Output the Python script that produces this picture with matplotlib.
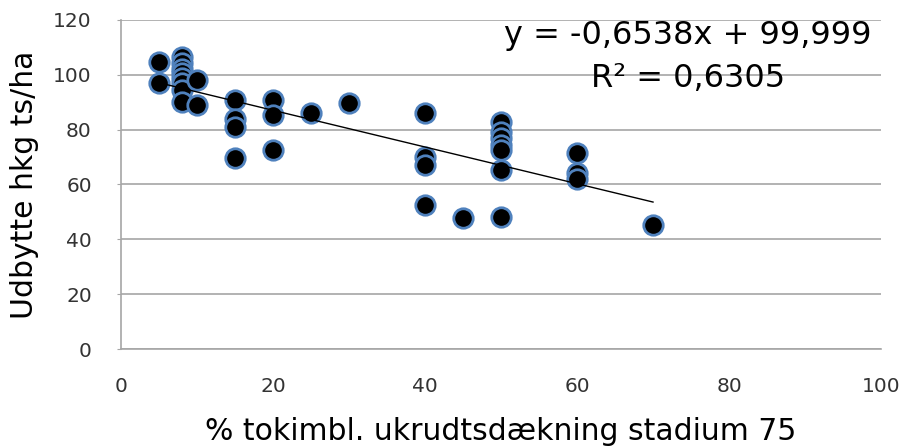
import numpy as np
import matplotlib
matplotlib.use("Agg")
import matplotlib.pyplot as plt

plt.rcParams['font.family'] = ['DejaVu Sans']

# % ukrudtsdaekning og udbytte, aflaest fra figuren
daekning = [5, 5,
            8, 8, 8, 8, 8, 8, 8, 8,
            10, 10,
            15, 15, 15, 15,
            20, 20, 20,
            25, 30,
            40, 40, 40, 40,
            45,
            50, 50, 50, 50, 50, 50, 50,
            60, 60, 60,
            70]
udbytte = [104.8, 96.9,
           106.4, 104.4, 102.3, 100.5, 98.7, 96.9, 94.5, 90.2,
           98.1, 89.0,
           90.8, 83.8, 81.1, 69.5,
           90.8, 85.3, 72.6,
           85.9, 89.6,
           86.2, 70.1, 67.1, 52.5,
           47.7,
           82.9, 79.3, 76.8, 74.4, 72.6, 65.3, 48.3,
           71.4, 64.1, 61.9,
           45.2]

ligning = "y = -0,6538x + 99,999"
r2_tekst = "R² = 0,6305"
x_ticks = [0, 20, 40, 60, 80, 100]
y_ticks = [0, 20, 40, 60, 80, 100, 120]

x = np.array(daekning, dtype=float)
y = np.array(udbytte, dtype=float)
haeldning, skaering = np.polyfit(x, y, 1)

fig = plt.figure(figsize=(9.04, 4.47), dpi=100)
ax = fig.add_subplot(111)
fig.subplots_adjust(left=0.1338, right=0.9746, top=0.9553, bottom=0.2192)

ax.set_xlim(0, 100)
ax.set_ylim(0, 120)
ax.set_xticks(x_ticks)
ax.set_yticks(y_ticks)
ax.yaxis.grid(True, color='#a6a6a6', linewidth=1.2)
ax.set_axisbelow(True)
for s in ['top', 'right']:
    ax.spines[s].set_visible(False)
for s in ['left', 'bottom']:
    ax.spines[s].set_color('#a6a6a6')
    ax.spines[s].set_linewidth(1.2)
ax.tick_params(axis='y', length=3, color='#a6a6a6', labelsize=14.5, pad=18,
               labelcolor='#333333')
ax.tick_params(axis='x', length=0, labelsize=14.5, pad=20, labelcolor='#333333')

ax.plot(x, y, 'o', markersize=14, markerfacecolor='black',
        markeredgecolor='#4f81bd', markeredgewidth=2, zorder=3)

xs = np.array([x.min(), x.max()])
ax.plot(xs, haeldning * xs + skaering, color='black', linewidth=1, zorder=4)

ax.text(0.988, 1.0, ligning + "\n" + r2_tekst, transform=ax.transAxes,
        ha='right', va='top', multialignment='center', fontsize=23, linespacing=1.5)

ax.set_xlabel("% tokimbl. ukrudtsdækning stadium 75", fontsize=21.5, labelpad=15)
ax.set_ylabel("Udbytte hkg ts/ha", fontsize=21.5, labelpad=10)

fig.savefig("out.png", dpi=100)
